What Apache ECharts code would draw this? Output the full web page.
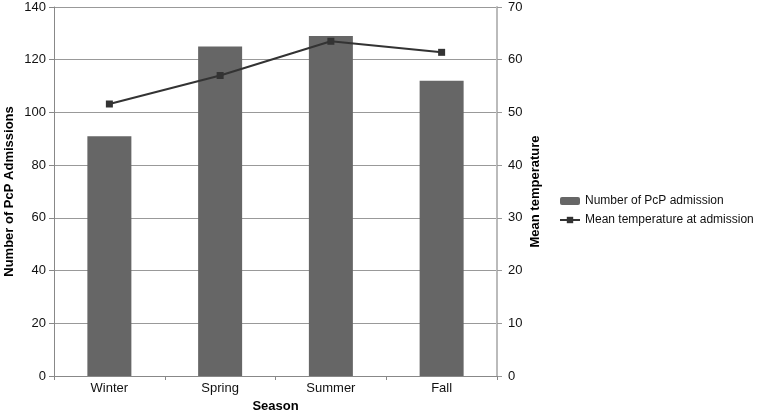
<!DOCTYPE html>
<html lang="en">
<head>
<meta charset="UTF-8" />
<title>PcP admissions by season</title>
<script src="https://cdn.jsdelivr.net/npm/echarts@6/dist/echarts.min.js"></script>
<style>
  html, body { margin: 0; padding: 0; background: #fff; }
</style>
</head>
<body>
<div id="main" style="width:763px;height:412px;"></div>
<script>
// data
var seasons = ['Winter', 'Spring', 'Summer', 'Fall'];
var admissions = [91, 125, 129, 112];
var meanTemp = [51.6, 57, 63.5, 61.4];

var font = 'Liberation Sans, Arial, sans-serif';

var chart = echarts.init(document.getElementById('main'));
chart.setOption({
  animation: false,
  textStyle: { fontFamily: font },
  grid: { left: 54, right: 266, top: 7, bottom: 36, containLabel: false, outerBoundsMode: 'none' },
  legend: {
    orient: 'vertical',
    left: 554,
    top: 190,
    itemGap: 7,
    itemWidth: 20,
    itemHeight: 8,
    textStyle: { fontSize: 12, color: '#111', fontFamily: font },
    data: ['Number of PcP admission', 'Mean temperature at admission']
  },
  xAxis: {
    type: 'category',
    data: seasons,
    name: 'Season',
    nameLocation: 'middle',
    nameGap: 24,
    nameMoveOverlap: false,
    nameTextStyle: { fontWeight: 'bold', fontSize: 13, color: '#000' },
    axisLine: { lineStyle: { color: '#888' } },
    axisTick: { show: true, alignWithLabel: false, length: 4, lineStyle: { color: '#888' } },
    axisLabel: { color: '#111', fontSize: 13, margin: 6 }
  },
  yAxis: [{
    type: 'value',
    min: 0, max: 140, interval: 20,
    name: 'Number of PcP Admissions',
    nameLocation: 'middle',
    nameGap: 38,
    nameMoveOverlap: false,
    nameTextStyle: { fontWeight: 'bold', fontSize: 13, color: '#000' },
    axisLine: { show: true, lineStyle: { color: '#888' } },
    axisTick: { show: true, length: 5, lineStyle: { color: '#888' } },
    axisLabel: { color: '#111', fontSize: 13, margin: 8 },
    splitLine: { lineStyle: { color: '#999' } }
  }, {
    type: 'value',
    min: 0, max: 70, interval: 10,
    name: 'Mean temperature',
    nameLocation: 'middle',
    nameGap: 32,
    nameMoveOverlap: false,
    nameTextStyle: { fontWeight: 'bold', fontSize: 13, color: '#000' },
    axisLine: { show: true, lineStyle: { color: '#bbb', width: 2 } },
    axisTick: { show: true, length: 5, lineStyle: { color: '#999' } },
    axisLabel: { color: '#111', fontSize: 13, margin: 11 },
    splitLine: { show: false }
  }],
  series: [{
    name: 'Number of PcP admission',
    type: 'bar',
    data: admissions,
    barWidth: 44,
    itemStyle: { color: '#666666' }
  }, {
    name: 'Mean temperature at admission',
    type: 'line',
    yAxisIndex: 1,
    data: meanTemp,
    symbol: 'rect',
    symbolSize: 7,
    lineStyle: { color: '#333', width: 2 },
    itemStyle: { color: '#333' }
  }]
});
</script>
</body>
</html>
